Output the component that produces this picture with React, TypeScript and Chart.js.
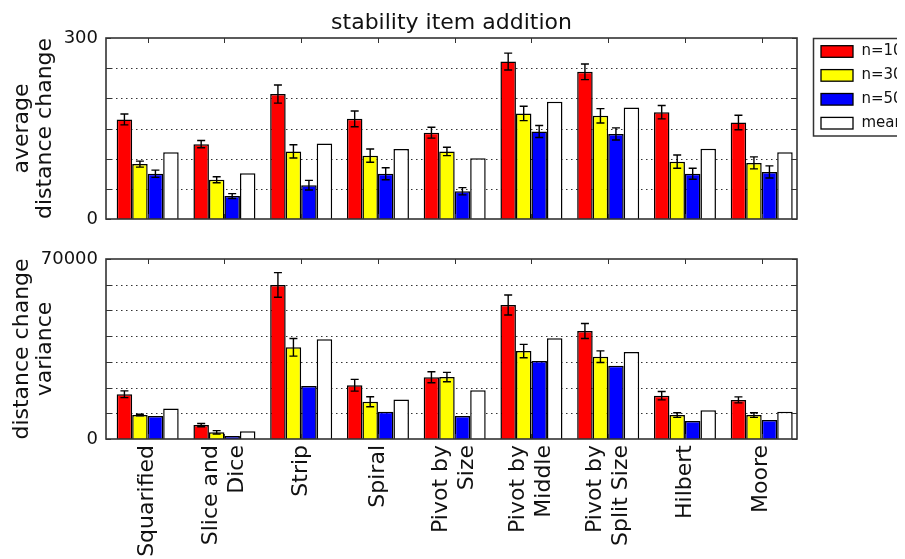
import React, { useEffect, useRef } from 'react';
import { Chart, registerables } from 'chart.js';

Chart.register(...registerables);

const FONT = '"DejaVu Sans", sans-serif';

const categories = [
  'Squarified',
  'Slice and\nDice',
  'Strip',
  'Spiral',
  'Pivot by\nSize',
  'Pivot by\nMiddle',
  'Pivot by\nSplit Size',
  'Hilbert',
  'Moore',
];
const seriesNames = ['n=100', 'n=300', 'n=500', 'mean'];
const seriesColors = ['#ff0000', '#ffff00', '#0000ff', '#ffffff'];

const chartTitle = 'stability item addition';
const topAxisTitle = ['average', 'distance change'];
const bottomAxisTitle = ['distance change', 'variance'];

// top panel: average distance change
const avgN100 = [165, 124, 207, 166, 143, 261, 244, 177, 160];
const avgN100Err = [9, 6, 15, 13, 9, 14, 13, 11, 12];
const avgN300 = [91, 65, 112, 105, 112, 175, 171, 95, 93];
const avgN300Err = [5, 5, 11, 11, 7, 12, 12, 11, 10];
const avgN500 = [75, 38, 56, 75, 46, 145, 141, 75, 78];
const avgN500Err = [6, 4, 8, 10, 6, 10, 10, 9, 10];
const avgMean = [110.5, 76, 125, 116, 100.5, 194.5, 185, 116.5, 110.5];
const avgMax = 300;
const avgStep = 50;

// bottom panel: distance change variance
const varN100 = [17400, 5400, 59900, 20900, 24000, 52100, 42000, 16850, 15200];
const varN100Err = [1300, 650, 4800, 2270, 2140, 3890, 2920, 1620, 1170];
const varN300 = [9300, 2600, 35650, 14500, 24100, 34200, 32000, 9300, 9300];
const varN300Err = [300, 650, 3430, 1940, 1810, 2590, 2270, 900, 900];
const varN500 = [8900, 1200, 20600, 10600, 8900, 30300, 28500, 7000, 7400];
const varMean = [11900, 3000, 38800, 15400, 19000, 39150, 33800, 11150, 10600];
const varMax = 70000;
const varStep = 10000;

type PanelCfg = {
  errors: (number[] | null)[];
  yTitle: string[];
  title?: string;
  legend?: boolean;
  xLabels?: boolean;
};

function makePlugin(cfg: PanelCfg) {
  return {
    id: 'mplDecor',
    beforeDatasetsDraw(chart: any) {
      const { ctx, chartArea: a, scales } = chart;
      const ys = scales.y;
      ctx.save();
      ctx.strokeStyle = '#333';
      ctx.lineWidth = 1;
      ctx.setLineDash([1.5, 3.5]);
      ys.ticks.forEach((t: any) => {
        if (t.value <= ys.min || t.value >= ys.max) return;
        const y = Math.round(ys.getPixelForValue(t.value)) + 0.5;
        ctx.beginPath();
        ctx.moveTo(a.left, y);
        ctx.lineTo(a.right, y);
        ctx.stroke();
      });
      ctx.restore();
    },
    afterDatasetsDraw(chart: any) {
      const { ctx, chartArea: a, scales } = chart;
      const xs = scales.x;
      const ys = scales.y;
      ctx.save();
      ctx.strokeStyle = '#000';
      ctx.lineWidth = 1.4;
      cfg.errors.forEach((err, di) => {
        if (!err) return;
        const meta = chart.getDatasetMeta(di);
        const ds = chart.data.datasets[di];
        meta.data.forEach((bar: any, i: number) => {
          const v = ds.data[i].y;
          const x = bar.x;
          const y1 = ys.getPixelForValue(v + err[i]);
          const y2 = ys.getPixelForValue(v - err[i]);
          const cap = 4;
          ctx.beginPath();
          ctx.moveTo(x, y1);
          ctx.lineTo(x, y2);
          ctx.moveTo(x - cap, y1);
          ctx.lineTo(x + cap, y1);
          ctx.moveTo(x - cap, y2);
          ctx.lineTo(x + cap, y2);
          ctx.stroke();
        });
      });
      // inward tick marks
      ctx.strokeStyle = '#333';
      ctx.lineWidth = 1;
      const tl = 5;
      ctx.beginPath();
      for (let i = 0; i < categories.length; i++) {
        const x = Math.round(xs.getPixelForValue(i)) + 0.5;
        ctx.moveTo(x, a.top);
        ctx.lineTo(x, a.top + tl);
        ctx.moveTo(x, a.bottom);
        ctx.lineTo(x, a.bottom - tl);
      }
      ys.ticks.forEach((t: any) => {
        const y = Math.round(ys.getPixelForValue(t.value)) + 0.5;
        ctx.moveTo(a.left, y);
        ctx.lineTo(a.left + tl, y);
        ctx.moveTo(a.right, y);
        ctx.lineTo(a.right - tl, y);
      });
      ctx.stroke();
      // frame
      ctx.lineWidth = 1.6;
      ctx.strokeStyle = '#333';
      ctx.strokeRect(a.left, a.top, a.right - a.left, a.bottom - a.top);
      ctx.restore();
    },
    afterDraw(chart: any) {
      const { ctx, chartArea: a, scales } = chart;
      const xs = scales.x;
      ctx.save();
      ctx.fillStyle = '#111';
      if (cfg.title) {
        ctx.font = `22px ${FONT}`;
        ctx.textAlign = 'center';
        ctx.textBaseline = 'alphabetic';
        ctx.fillText(cfg.title, (a.left + a.right) / 2, 28.5);
      }
      // y axis title (two lines, rotated)
      ctx.font = `22px ${FONT}`;
      const cy = (a.top + a.bottom) / 2;
      cfg.yTitle.forEach((line, k) => {
        ctx.save();
        ctx.translate(22 + k * 23, cy);
        ctx.rotate(-Math.PI / 2);
        ctx.textAlign = 'center';
        ctx.textBaseline = 'middle';
        ctx.fillText(line, 0, 0);
        ctx.restore();
      });
      // x tick labels (rotated, multi-line, centred on tick)
      if (cfg.xLabels) {
        ctx.font = `22px ${FONT}`;
        const lh = 26;
        categories.forEach((label, i) => {
          const lines = label.split('\n');
          const x = xs.getPixelForValue(i);
          ctx.save();
          ctx.translate(x, a.bottom + 6);
          ctx.rotate(-Math.PI / 2);
          ctx.textAlign = 'right';
          ctx.textBaseline = 'middle';
          lines.forEach((ln, k) => {
            ctx.fillText(ln, 0, (k - (lines.length - 1) / 2) * lh);
          });
          ctx.restore();
        });
      }
      // legend
      if (cfg.legend) {
        ctx.save();
        ctx.beginPath();
        ctx.rect(0, 0, 897, chart.height);
        ctx.clip();
        const bx = 813.5;
        const by = 38.5;
        ctx.fillStyle = '#fff';
        ctx.fillRect(bx, by, 120, 97.5);
        ctx.strokeStyle = '#333';
        ctx.lineWidth = 1.5;
        ctx.strokeRect(bx, by, 120, 97.5);
        ctx.font = `15px ${FONT}`;
        ctx.textAlign = 'left';
        ctx.textBaseline = 'middle';
        seriesNames.forEach((name, k) => {
          const yc = 51.5 + k * 23.9;
          ctx.fillStyle = seriesColors[k];
          ctx.fillRect(821, yc - 5.8, 32, 11.6);
          ctx.strokeStyle = '#000';
          ctx.lineWidth = 1.3;
          ctx.strokeRect(821, yc - 5.8, 32, 11.6);
          ctx.fillStyle = '#111';
          ctx.fillText(name, 861.5, yc);
        });
        ctx.restore();
      }
      ctx.restore();
    },
  };
}

function buildChart(
  canvas: HTMLCanvasElement,
  series: number[][],
  max: number,
  step: number,
  padding: { top: number; right: number; bottom: number; left: number },
  cfg: PanelCfg
) {
  return new Chart(canvas, {
    type: 'bar',
    data: {
      datasets: seriesNames.map((name, s) => ({
        label: name,
        data: categories.map((_, i) => ({ x: i, y: series[s][i] })),
        backgroundColor: seriesColors[s],
        borderColor: '#000',
        borderWidth: 1.5,
        categoryPercentage: 0.808,
        barPercentage: 1,
      })),
    },
    options: {
      responsive: false,
      devicePixelRatio: 1,
      animation: false,
      layout: { padding },
      plugins: {
        legend: { display: false },
        tooltip: { enabled: false },
        title: { display: false },
      },
      scales: {
        x: {
          type: 'linear',
          min: -0.543,
          max: 8.46,
          offset: false,
          display: false,
        },
        y: {
          min: 0,
          max,
          afterFit: (s: any) => {
            s.width = 106;
            s.paddingTop = 0;
            s.paddingBottom = 0;
          },
          ticks: {
            stepSize: step,
            autoSkip: false,
            padding: 8,
            color: '#111',
            font: { family: FONT, size: 18 },
            callback: (v: any) => (v === 0 || v === max ? String(v) : ''),
          },
          grid: { display: false, drawTicks: false },
          border: { display: false },
        },
      },
    } as any,
    plugins: [makePlugin(cfg) as any],
  });
}

export default function App() {
  const topRef = useRef<HTMLCanvasElement>(null);
  const botRef = useRef<HTMLCanvasElement>(null);

  useEffect(() => {
    const top = buildChart(
      topRef.current!,
      [avgN100, avgN300, avgN500, avgMean],
      avgMax,
      avgStep,
      { top: 38, right: 108, bottom: 13, left: 0 },
      {
        errors: [avgN100Err, avgN300Err, avgN500Err, null],
        yTitle: topAxisTitle,
        title: chartTitle,
        legend: true,
      }
    );
    const bot = buildChart(
      botRef.current!,
      [varN100, varN300, varN500, varMean],
      varMax,
      varStep,
      { top: 27, right: 108, bottom: 120, left: 0 },
      {
        errors: [varN100Err, varN300Err, null, null],
        yTitle: bottomAxisTitle,
        xLabels: true,
      }
    );
    return () => {
      top.destroy();
      bot.destroy();
    };
  }, []);

  return (
    <div
      style={{
        position: 'absolute',
        left: 0,
        top: 0,
        width: 905,
        height: 559,
        background: '#fff',
        overflow: 'hidden',
      }}
    >
      <canvas
        ref={topRef}
        width={905}
        height={232}
        style={{ position: 'absolute', left: 0, top: 0, display: 'block' }}
      />
      <canvas
        ref={botRef}
        width={905}
        height={327}
        style={{ position: 'absolute', left: 0, top: 232, display: 'block' }}
      />
    </div>
  );
}
